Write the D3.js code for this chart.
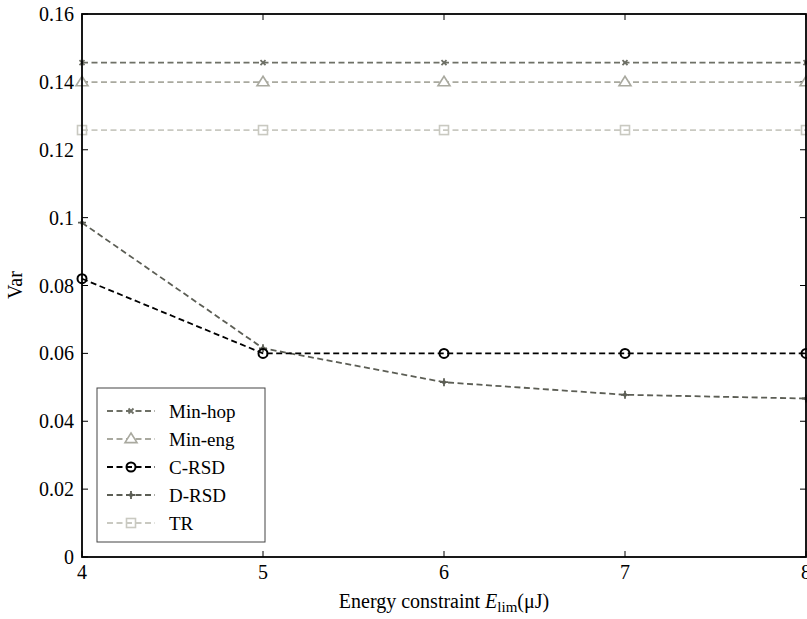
<!DOCTYPE html>
<html><head><meta charset="utf-8">
<script src="https://cdn.jsdelivr.net/npm/d3@7"></script>
<style>body{margin:0;background:#fff}svg{display:block}</style>
</head><body>
<svg id="c" width="807" height="619"></svg>
<script>
const xValues = [4, 5, 6, 7, 8];
const xTicks = [4, 5, 6, 7, 8];
const yTicks = [0, 0.02, 0.04, 0.06, 0.08, 0.1, 0.12, 0.14, 0.16];
const yTickLabels = ["0", "0.02", "0.04", "0.06", "0.08", "0.1", "0.12", "0.14", "0.16"];
const seriesNames = ["Min-hop", "Min-eng", "C-RSD", "D-RSD", "TR"];
const minHop = [0.1457, 0.1457, 0.1457, 0.1457, 0.1457];
const minEng = [0.1399, 0.1399, 0.1399, 0.1399, 0.1399];
const cRSD = [0.0820, 0.0600, 0.0600, 0.0600, 0.0600];
const dRSD = [0.0985, 0.0615, 0.0515, 0.0478, 0.0467];
const tr = [0.1258, 0.1258, 0.1258, 0.1258, 0.1258];
const seriesColors = ["#6e7066", "#a9a99f", "#000000", "#5c5e55", "#c9c9c1"];
const seriesMarkers = ["x", "tri", "circle", "plus", "square"];
const allSeries = [minHop, minEng, cRSD, dRSD, tr];

const svg = d3.select("#c");
const L = 82, R = 806, T = 14, B = 557;
const x = d3.scaleLinear().domain([4, 8]).range([L, R]);
const y = d3.scaleLinear().domain([0, 0.16]).range([B, T]);
const font = "'Liberation Serif', 'DejaVu Serif', serif";

// ticks (inward) on all sides
const tickLen = 6;
const g = svg.append("g");
xTicks.forEach(t => {
  g.append("line").attr("x1", x(t)).attr("x2", x(t)).attr("y1", B).attr("y2", B - tickLen).attr("stroke", "#000");
  g.append("line").attr("x1", x(t)).attr("x2", x(t)).attr("y1", T).attr("y2", T + tickLen).attr("stroke", "#000");
  g.append("text").attr("x", x(t)).attr("y", B + 22).attr("text-anchor", "middle")
    .attr("font-family", font).attr("font-size", 20).text(t);
});
yTicks.forEach((t, i) => {
  g.append("line").attr("x1", L).attr("x2", L + tickLen).attr("y1", y(t)).attr("y2", y(t)).attr("stroke", "#000");
  g.append("line").attr("x1", R).attr("x2", R - tickLen).attr("y1", y(t)).attr("y2", y(t)).attr("stroke", "#000");
  g.append("text").attr("x", L - 8).attr("y", y(t) + 7).attr("text-anchor", "end")
    .attr("font-family", font).attr("font-size", 20).text(yTickLabels[i]);
});

// series
const line = d3.line().x((d, i) => x(xValues[i])).y(d => y(d));
function marker(sel, type, color, cx, cy) {
  if (type === "x") {
    const s = 2.5;
    sel.append("path").attr("d", `M${cx-s},${cy-s}L${cx+s},${cy+s}M${cx-s},${cy+s}L${cx+s},${cy-s}`)
      .attr("stroke", color).attr("stroke-width", 1.8).attr("fill", "none");
  } else if (type === "tri") {
    const s = 6;
    sel.append("path").attr("d", `M${cx},${cy-s}L${cx+s},${cy+s*0.6}L${cx-s},${cy+s*0.6}Z`)
      .attr("stroke", color).attr("stroke-width", 1.6).attr("fill", "#fff");
  } else if (type === "circle") {
    sel.append("circle").attr("cx", cx).attr("cy", cy).attr("r", 4.5)
      .attr("stroke", color).attr("stroke-width", 2).attr("fill", "none");
  } else if (type === "plus") {
    const s = 4;
    sel.append("path").attr("d", `M${cx-s},${cy}L${cx+s},${cy}M${cx},${cy-s}L${cx},${cy+s}`)
      .attr("stroke", color).attr("stroke-width", 1.8).attr("fill", "none");
    sel.append("circle").attr("cx", cx).attr("cy", cy).attr("r", 2).attr("fill", color);
  } else if (type === "square") {
    const s = 4.5;
    sel.append("rect").attr("x", cx - s).attr("y", cy - s).attr("width", 2 * s).attr("height", 2 * s)
      .attr("stroke", color).attr("stroke-width", 1.6).attr("fill", "none");
  }
}
const drawOrder = [4, 1, 0, 3, 2];
drawOrder.forEach(k => {
  const data = allSeries[k];
  const sg = svg.append("g");
  sg.append("path").datum(data).attr("d", line).attr("fill", "none")
    .attr("stroke", seriesColors[k]).attr("stroke-width", 1.8).attr("stroke-dasharray", "6,3.5");
  data.forEach((v, i) => marker(sg, seriesMarkers[k], seriesColors[k], x(xValues[i]), y(v)));
});

// frame
svg.append("rect").attr("x", L).attr("y", T).attr("width", R - L).attr("height", B - T)
  .attr("fill", "none").attr("stroke", "#000").attr("stroke-width", 1.8);

// legend
const lg = svg.append("g");
lg.append("rect").attr("x", 97).attr("y", 388).attr("width", 168).attr("height", 154)
  .attr("fill", "#fff").attr("stroke", "#444").attr("stroke-width", 1);
seriesNames.forEach((n, k) => {
  const ly = 411 + k * 28;
  lg.append("line").attr("x1", 107).attr("x2", 155).attr("y1", ly).attr("y2", ly)
    .attr("stroke", seriesColors[k]).attr("stroke-width", 1.8).attr("stroke-dasharray", "6,3.5");
  marker(lg, seriesMarkers[k], seriesColors[k], 131, ly);
  lg.append("text").attr("x", 169).attr("y", ly + 7).attr("font-family", font).attr("font-size", 19).text(n);
});

// axis labels
svg.append("text").attr("transform", "translate(22,285) rotate(-90)").attr("text-anchor", "middle")
  .attr("font-family", font).attr("font-size", 20).text("Var");
const xl = svg.append("text").attr("x", 444).attr("y", 608).attr("text-anchor", "middle")
  .attr("font-family", font).attr("font-size", 20);
xl.append("tspan").text("Energy constraint ");
xl.append("tspan").attr("font-style", "italic").text("E");
xl.append("tspan").attr("font-size", 15).attr("dy", 4).text("lim");
xl.append("tspan").attr("dy", -4).text("(μJ)");
</script>
</body></html>
